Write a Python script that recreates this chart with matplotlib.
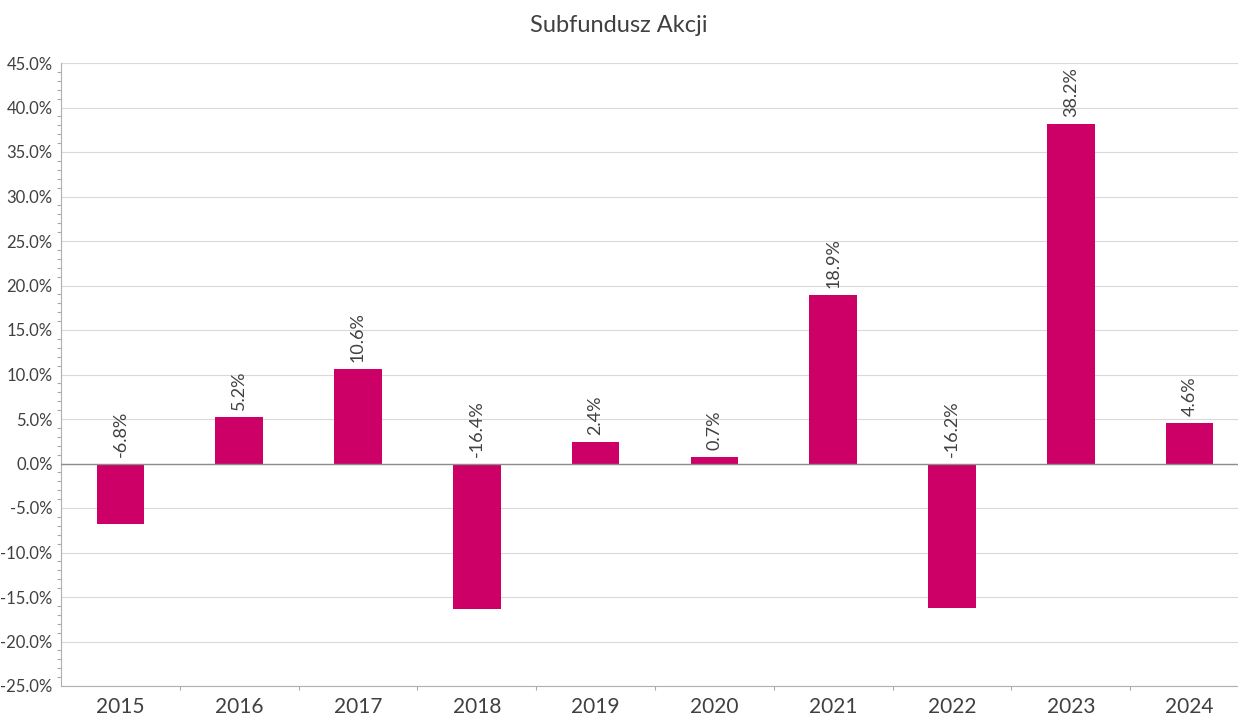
import matplotlib
matplotlib.use("Agg")
import matplotlib.pyplot as plt
from matplotlib.ticker import MultipleLocator, FuncFormatter

years = ["2015", "2016", "2017", "2018", "2019", "2020", "2021", "2022", "2023", "2024"]
returns = [-6.8, 5.2, 10.6, -16.4, 2.4, 0.7, 18.9, -16.2, 38.2, 4.6]
title = "Subfundusz Akcji"

plt.rcParams['font.family'] = ['Lato', 'DejaVu Sans']
plt.rcParams['font.weight'] = 'normal'

W, H = 1238, 716
fig = plt.figure(figsize=(W / 100, H / 100), dpi=100)
left, right, top, bottom = 61, 1249, 63, 686
ax = fig.add_axes([left / W, 1 - bottom / H, (right - left) / W, (bottom - top) / H])

bar_color = "#CC0066"
text_color = "#404040"
x = list(range(len(years)))
ax.bar(x, returns, width=0.4, color=bar_color, zorder=3)

ax.set_xlim(-0.5, len(years) - 0.5)
ax.set_ylim(-25, 45)
ax.yaxis.set_major_locator(MultipleLocator(5))
ax.yaxis.set_minor_locator(MultipleLocator(1))
ax.yaxis.set_major_formatter(FuncFormatter(lambda v, p: f"{v:.1f}%"))
ax.grid(axis='y', which='major', color="#d9d9d9", linewidth=0.8, zorder=0)
ax.axhline(0, color="#8c8c8c", linewidth=1.0, zorder=4)

ax.set_xticks(x)
ax.set_xticklabels(years)
ax.set_xticks([i + 0.5 for i in range(len(years) - 1)], minor=True)
ax.tick_params(axis='x', which='major', length=0, pad=8, labelsize=15, labelcolor=text_color)
ax.tick_params(axis='x', which='minor', length=3, color="#aaaaaa", width=0.8)
ax.tick_params(axis='y', which='major', length=0, pad=6, labelsize=12, labelcolor=text_color)
ax.tick_params(axis='y', which='minor', length=3, color="#aaaaaa", width=0.8)

for s in ['top', 'right']:
    ax.spines[s].set_visible(False)
ax.spines['left'].set_color("#b0b0b0")
ax.spines['bottom'].set_color("#b0b0b0")

for xi, v in zip(x, returns):
    base = max(v, 0)
    ax.annotate(f"{v:.1f}%", xy=(xi, base), xytext=(0, 5), textcoords='offset points',
                rotation=90, ha='center', va='bottom', fontsize=13, color=text_color)

fig.text(0.5, 1 - 25 / H, title, ha='center', va='center', fontsize=17, color=text_color)

fig.savefig("out.png", dpi=100)
